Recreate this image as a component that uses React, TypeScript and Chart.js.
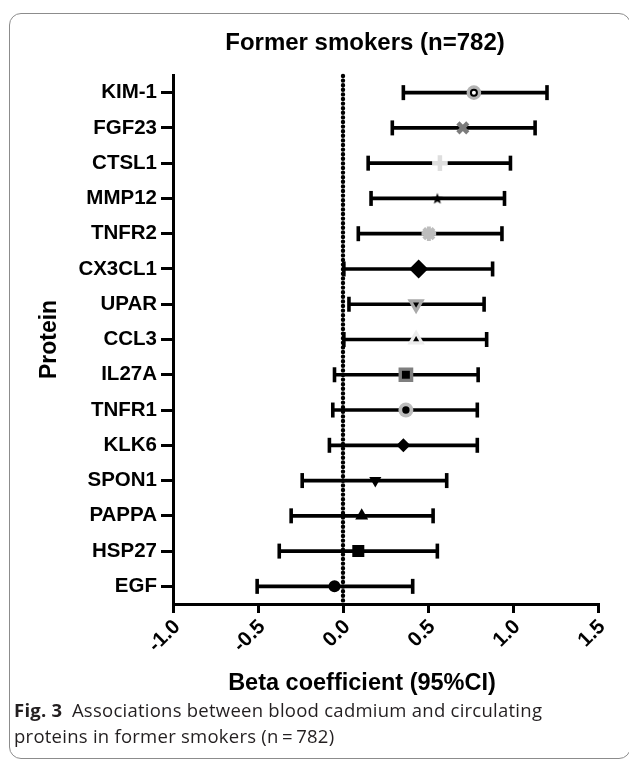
import React, { useEffect, useRef } from 'react';
import { Chart, registerables } from 'chart.js';

Chart.register(...registerables);

// ---------------- data ----------------
const proteins = ['KIM-1', 'FGF23', 'CTSL1', 'MMP12', 'TNFR2', 'CX3CL1', 'UPAR', 'CCL3', 'IL27A', 'TNFR1', 'KLK6', 'SPON1', 'PAPPA', 'HSP27', 'EGF'];
const beta = [0.77, 0.705, 0.57, 0.555, 0.505, 0.445, 0.43, 0.43, 0.37, 0.37, 0.355, 0.19, 0.11, 0.09, -0.05];
const ciLow = [0.355, 0.29, 0.148, 0.165, 0.09, 0.005, 0.035, 0.005, -0.05, -0.06, -0.08, -0.24, -0.305, -0.375, -0.505];
const ciHigh = [1.2, 1.13, 0.985, 0.95, 0.935, 0.88, 0.83, 0.845, 0.795, 0.79, 0.79, 0.61, 0.53, 0.555, 0.41];
const xTicks = [-1.0, -0.5, 0.0, 0.5, 1.0, 1.5];

const chartTitle = 'Former smokers (n=782)';
const xTitle = 'Beta coefficient (95%CI)';
const yTitle = 'Protein';

// ---------------- styles ----------------
const FONT = '"Liberation Sans", Arial, Helvetica, sans-serif';

type M = { style: any; r: number; fill: string; stroke: string; bw: number; rot?: number };
const outerStyles: M[] = [
  { style: 'circle', r: 7.3, fill: '#b3b3b3', stroke: '#b3b3b3', bw: 0 },
  { style: 'crossRot', r: 7, fill: '#7c7c7c', stroke: '#7c7c7c', bw: 4.5 },
  { style: 'cross', r: 7.8, fill: '#dedede', stroke: '#dedede', bw: 4.5 },
  { style: 'STAR', r: 6, fill: '#000', stroke: '#000', bw: 0 },
  { style: 'star', r: 7.3, fill: '#bdbdbd', stroke: '#bdbdbd', bw: 4 },
  { style: 'rectRot', r: 9.5, fill: '#000', stroke: '#000', bw: 0 },
  { style: 'triangle', r: 10, fill: '#a9a9a9', stroke: '#a9a9a9', bw: 0, rot: 180 },
  { style: 'triangle', r: 10, fill: '#ececec', stroke: '#ececec', bw: 0 },
  { style: 'rect', r: 10.4, fill: '#7f7f7f', stroke: '#7f7f7f', bw: 0 },
  { style: 'circle', r: 7.5, fill: '#bdbdbd', stroke: '#bdbdbd', bw: 0 },
  { style: 'rectRot', r: 7, fill: '#000', stroke: '#000', bw: 0 },
  { style: 'triangle', r: 7, fill: '#000', stroke: '#000', bw: 0, rot: 180 },
  { style: 'triangle', r: 7.5, fill: '#000', stroke: '#000', bw: 0 },
  { style: 'rect', r: 8.5, fill: '#000', stroke: '#000', bw: 0 },
  { style: 'circle', r: 6, fill: '#000', stroke: '#000', bw: 0 },
];
const innerIdx = [0, 6, 7, 8, 9];
const innerStyles: M[] = [
  { style: 'circle', r: 3, fill: '#ffffff', stroke: '#000', bw: 2 },
  { style: 'triangle', r: 3.5, fill: '#000', stroke: '#000', bw: 0, rot: 180 },
  { style: 'triangle', r: 3.5, fill: '#000', stroke: '#000', bw: 0 },
  { style: 'rect', r: 5.6, fill: '#000', stroke: '#000', bw: 0 },
  { style: 'circle', r: 3.7, fill: '#000', stroke: '#000', bw: 0 },
];

function makeStar(rOut: number): HTMLCanvasElement {
  const size = Math.ceil(rOut * 2 + 2);
  const c = document.createElement('canvas');
  c.width = size;
  c.height = size;
  const g = c.getContext('2d')!;
  const cx = size / 2, cy = size / 2 + 0.5;
  const rIn = rOut * 0.42;
  g.beginPath();
  for (let k = 0; k < 10; k++) {
    const a = -Math.PI / 2 + (k * Math.PI) / 5;
    const rr = k % 2 === 0 ? rOut : rIn;
    const px = cx + rr * Math.cos(a), py = cy + rr * Math.sin(a);
    if (k === 0) g.moveTo(px, py); else g.lineTo(px, py);
  }
  g.closePath();
  g.fillStyle = '#000';
  g.fill();
  return c;
}

const zeroLinePlugin = {
  id: 'zeroLine',
  beforeDatasetsDraw(chart: any) {
    const { ctx, chartArea, scales } = chart;
    const x = scales.x.getPixelForValue(0);
    ctx.save();
    ctx.strokeStyle = '#000';
    ctx.lineWidth = 4.4;
    ctx.lineCap = 'round';
    ctx.setLineDash([0, 4.6]);
    ctx.beginPath();
    ctx.moveTo(x, chartArea.top + 1);
    ctx.lineTo(x, chartArea.bottom);
    ctx.stroke();
    ctx.restore();
  },
};

export default function App() {
  const ref = useRef<HTMLCanvasElement>(null);

  useEffect(() => {
    const canvas = ref.current!;
    const star = makeStar(6);
    const resolveStyle = (s: any) => (s === 'STAR' ? star : s);

    const chart = new Chart(canvas, {
      type: 'bar',
      data: {
        labels: proteins,
        datasets: [
          {
            type: 'line',
            order: 0,
            data: innerIdx.map((i) => ({ x: beta[i], y: proteins[i] })),
            showLine: false,
            pointStyle: innerStyles.map((m) => resolveStyle(m.style)),
            pointRadius: innerStyles.map((m) => m.r),
            pointBackgroundColor: innerStyles.map((m) => m.fill),
            pointBorderColor: innerStyles.map((m) => m.stroke),
            pointBorderWidth: innerStyles.map((m) => m.bw),
            pointRotation: innerStyles.map((m) => m.rot || 0),
          } as any,
          {
            type: 'line',
            order: 1,
            data: proteins.map((p, i) => ({ x: beta[i], y: p })),
            showLine: false,
            pointStyle: outerStyles.map((m) => resolveStyle(m.style)),
            pointRadius: outerStyles.map((m) => m.r),
            pointBackgroundColor: outerStyles.map((m) => m.fill),
            pointBorderColor: outerStyles.map((m) => m.stroke),
            pointBorderWidth: outerStyles.map((m) => m.bw),
            pointRotation: outerStyles.map((m) => m.rot || 0),
          } as any,
          {
            type: 'line',
            order: 2,
            data: proteins.map((p, i) => ({ x: ciLow[i], y: p })),
            showLine: false,
            pointStyle: 'line',
            pointRotation: 90,
            pointRadius: 7.5,
            pointBorderWidth: 3.6,
            pointBorderColor: '#000',
          } as any,
          {
            type: 'line',
            order: 2,
            data: proteins.map((p, i) => ({ x: ciHigh[i], y: p })),
            showLine: false,
            pointStyle: 'line',
            pointRotation: 90,
            pointRadius: 7.5,
            pointBorderWidth: 3.6,
            pointBorderColor: '#000',
          } as any,
          {
            type: 'bar',
            order: 3,
            data: proteins.map((_, i) => [ciLow[i], ciHigh[i]]),
            backgroundColor: '#000',
            borderWidth: 0,
            barThickness: 3,
          } as any,
        ],
      },
      options: {
        indexAxis: 'y',
        responsive: false,
        animation: false,
        devicePixelRatio: 1,
        layout: { padding: { left: 20, right: 31, top: 75, bottom: 0 } },
        plugins: {
          legend: { display: false },
          tooltip: { enabled: false },
          title: { display: false },
        },
        events: [],
        scales: {
          x: {
            type: 'linear',
            position: 'bottom',
            min: -1,
            max: 1.5,
            afterBuildTicks: (s: any) => {
              s.ticks = xTicks.map((v) => ({ value: v }));
            },
            afterFit: (s: any) => {
              s.height = 96;
            },
            ticks: {
              autoSkip: false,
              minRotation: 45,
              maxRotation: 45,
              color: '#000',
              padding: 2,
              labelOffset: 4,
              font: { family: FONT, weight: 'bold', size: 20.5 },
              callback: (v: any) => Number(v).toFixed(1),
            },
            grid: {
              display: true,
              drawOnChartArea: false,
              drawTicks: true,
              tickLength: 9,
              color: '#000',
              lineWidth: 3,
            },
            border: { display: true, color: '#000', width: 3 },
          },
          y: {
            type: 'category',
            offset: true,
            afterFit: (s: any) => {
              s.width = 153;
            },
            ticks: {
              color: '#000',
              padding: 4,
              font: { family: FONT, weight: 'bold', size: 20.5 },
            },
            grid: {
              display: true,
              offset: false,
              drawOnChartArea: false,
              drawTicks: true,
              tickLength: 12,
              color: '#000',
              lineWidth: 3,
            },
            border: { display: true, color: '#000', width: 3 },
            title: {
              display: true,
              text: yTitle,
              color: '#000',
              font: { family: FONT, weight: 'bold', size: 23 },
              padding: { top: 16, bottom: 0 },
            },
          },
        },
      } as any,
      plugins: [zeroLinePlugin],
    });
    return () => chart.destroy();
  }, []);

  return (
    <div style={{ position: 'absolute', left: 0, top: 0, width: 629, height: 763, background: '#fff', overflow: 'hidden' }}>
      <canvas ref={ref} width={629} height={700} style={{ position: 'absolute', left: 0, top: 0, display: 'block' }} />
      <div
        style={{
          position: 'absolute', left: 9, top: 13, width: 622, height: 746,
          border: '1px solid #8c8c8c', borderRadius: 12, boxSizing: 'border-box',
        }}
      />
      <div
        style={{
          position: 'absolute', left: 165, width: 400, top: 28, textAlign: 'center',
          fontFamily: FONT, fontWeight: 'bold', fontSize: 24, lineHeight: '27px', color: '#000', whiteSpace: 'nowrap',
        }}
      >
        {chartTitle}
      </div>
      <div
        style={{
          position: 'absolute', left: 162, width: 400, top: 669, textAlign: 'center',
          fontFamily: FONT, fontWeight: 'bold', fontSize: 23.5, lineHeight: '27px', color: '#000', whiteSpace: 'nowrap',
        }}
      >
        {xTitle}
      </div>
      <div
        style={{
          position: 'absolute', left: 14, top: 697, width: 610,
          fontFamily: '"Open Sans", "Noto Sans", sans-serif', fontSize: 18.5, letterSpacing: '0.25px', lineHeight: '26px', color: '#231f20', whiteSpace: 'nowrap',
        }}
      >
        <span style={{ fontWeight: 'bold' }}>Fig. 3</span>
        <span>{'\u2002Associations between blood cadmium and circulating'}</span>
        <br />
        <span>proteins in former smokers (n{'\u2009'}={'\u2009'}782)</span>
      </div>
    </div>
  );
}
